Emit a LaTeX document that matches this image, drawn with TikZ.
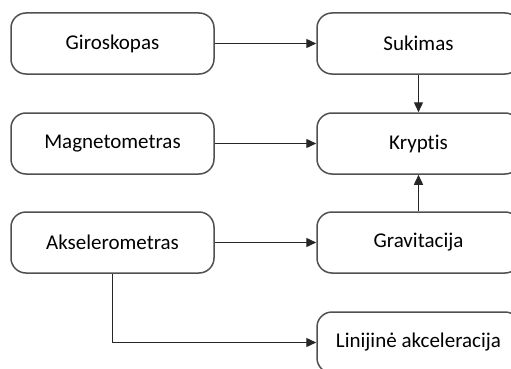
\documentclass[tikz,border=0pt]{standalone}
\usepackage{fontspec}
\setmainfont{Carlito}[Ligatures=NoCommon]
\usetikzlibrary{arrows.meta}
\definecolor{boxline}{HTML}{505050}
\begin{document}
\begin{tikzpicture}[x=1pt,y=-1pt,
  blk/.style={draw=boxline,line width=1.5pt,rounded corners=15pt,
    minimum width=203pt,minimum height=61pt,inner sep=0pt,
    font=\fontsize{21}{24}\selectfont,fill=white},
  conn/.style={draw=black!85,line width=1.4pt,-{Triangle[length=10pt,width=9pt]}}]
\useasboundingbox (0,0) rectangle (511,369);
\clip (0,0) rectangle (511,369);
% sensors
\node[blk] (giro) at (112.5,43.5) {Giroskopas};
\node[blk] (magn) at (112.5,143.5) {Magnetometras};
\node[blk] (aks)  at (112.5,242.5) {Akselerometras};
% derived quantities
\node[blk] (suk)  at (418.5,43.5) {Sukimas};
\node[blk] (kry)  at (418.5,143.5) {Kryptis};
\node[blk] (grav) at (418.5,242.5) {Gravitacija};
\node[blk] (lin)  at (418.5,342.5) {Linijinė akceleracija};
% connections
\draw[conn] (giro) -- (suk);
\draw[conn] (magn) -- (kry);
\draw[conn] (aks) -- (grav);
\draw[conn] (suk) -- (kry);
\draw[conn] (grav) -- (kry);
\draw[conn] (aks.south) |- (lin.west);
\end{tikzpicture}
\end{document}
